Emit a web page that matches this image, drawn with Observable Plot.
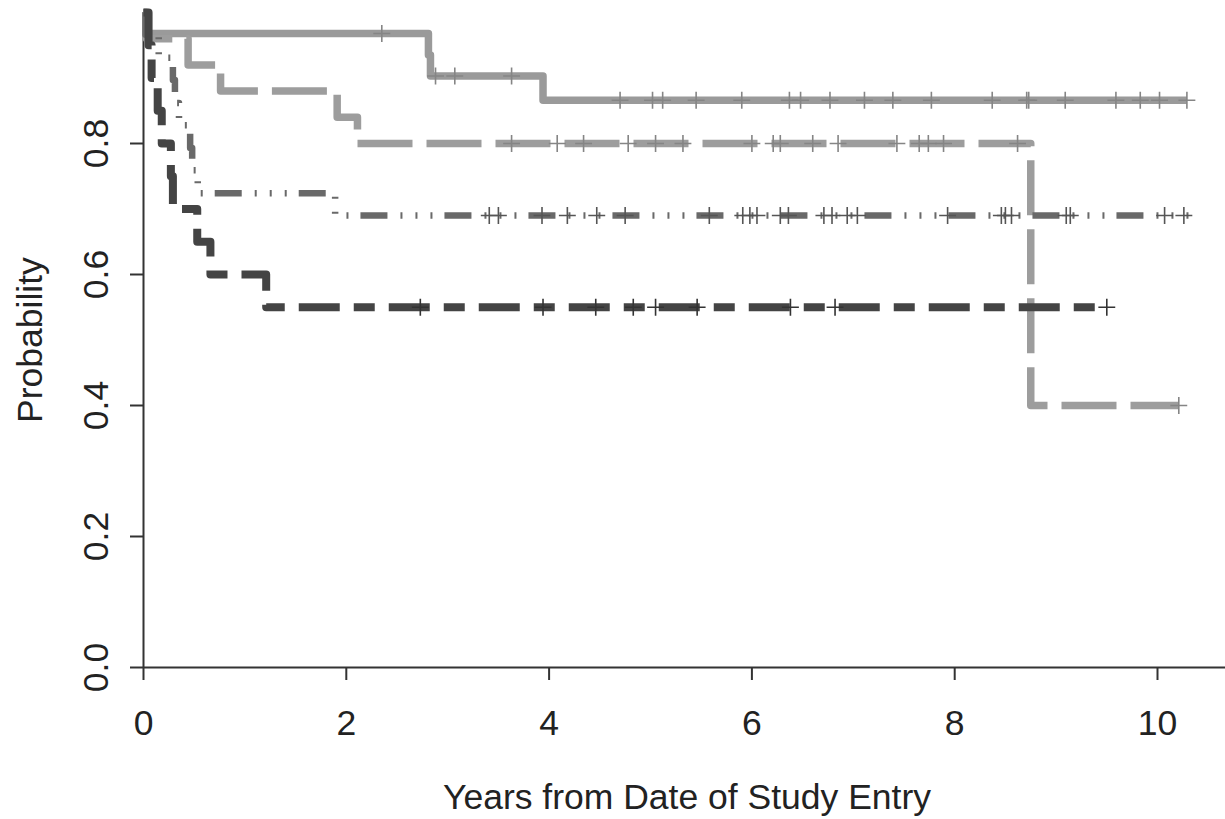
<!DOCTYPE html>
<html>
<head>
<meta charset="utf-8">
<script src="https://cdn.jsdelivr.net/npm/d3@7"></script>
<script src="https://cdn.jsdelivr.net/npm/@observablehq/plot@0.6"></script>
<style>
  html, body { margin: 0; padding: 0; background: #fff; }
</style>
</head>
<body>
<div id="chart"></div>
<script>
// ---- Axis ticks and titles ----
const xTicks = [0, 2, 4, 6, 8, 10];
const yTicks = [0, 0.2, 0.4, 0.6, 0.8];
const xTitle = "Years from Date of Study Entry";
const yTitle = "Probability";

// ---- Series A (solid, light gray) ----
const aTimes = [0, 0.03, 2.81, 2.83, 3.94, 10.29];
const aSurv  = [1, 0.968, 0.935, 0.903, 0.866, 0.866];
const aCensor = [2.35, 2.88, 3.07, 3.63, 4.70, 5.02, 5.12, 5.45, 5.90, 6.37, 6.48, 6.77,
                 7.11, 7.39, 7.77, 8.37, 8.71, 8.73, 9.09, 9.59, 9.83, 10.02, 10.29];

// ---- Series B (long dash, light gray) ----
const bTimes = [0, 0.03, 0.44, 0.76, 1.91, 2.11, 8.75, 10.21];
const bSurv  = [1, 0.96, 0.92, 0.88, 0.84, 0.80, 0.40, 0.40];
const bCensor = [3.63, 4.08, 4.34, 4.78, 5.05, 5.32, 6.00, 6.21, 6.28, 6.60, 6.85,
                 7.43, 7.65, 7.74, 7.89, 8.62, 10.21];

// ---- Series C (dash-dot-dot-dot, medium gray) ----
const cTimes = [0, 0.02, 0.15, 0.29, 0.31, 0.35, 0.46, 0.48, 0.535, 1.89, 10.34];
const cSurv  = [1, 0.966, 0.931, 0.897, 0.862, 0.828, 0.793, 0.759, 0.724, 0.69, 0.69];
const cCensor = [3.41, 3.50, 3.93, 4.18, 4.47, 4.75, 5.58, 5.91, 5.98, 6.05, 6.28, 6.36,
                 6.71, 6.79, 6.94, 7.04, 7.93, 8.46, 8.50, 8.56, 9.10, 9.14, 10.07, 10.26];

// ---- Series D (dashed, dark gray) ----
const dTimes = [0, 0.05, 0.08, 0.14, 0.18, 0.27, 0.29, 0.53, 0.66, 1.21, 9.50];
const dSurv  = [1, 0.95, 0.90, 0.85, 0.80, 0.75, 0.70, 0.65, 0.60, 0.55, 0.55];
const dCensor = [2.73, 3.94, 4.46, 4.83, 5.05, 5.46, 6.38, 6.82, 9.50];

// ---- helpers ----
function stepRows(times, surv) {
  return times.map((t, i) => ({t, s: surv[i]}));
}
function survAt(times, surv, t) {
  let s = surv[0];
  for (let i = 0; i < times.length; i++) if (times[i] <= t) s = surv[i];
  return s;
}
function censorRows(times, surv, cens) {
  return cens.map(t => ({t, s: survAt(times, surv, t)}));
}

const series = [
  {times: aTimes, surv: aSurv, cens: aCensor, color: "#9a9a9a", mark: "#858585", width: 7.5, dash: null},
  {times: bTimes, surv: bSurv, cens: bCensor, color: "#9d9d9d", mark: "#858585", width: 7.5, dash: "55 14"},
  {times: cTimes, surv: cSurv, cens: cCensor, color: "#696969", mark: "#555555", width: 6.5, dash: "27 13 2 13 2 13 2 12"},
  {times: dTimes, surv: dSurv, cens: dCensor, color: "#444444", mark: "#333333", width: 8, dash: "41 14 21 14"}
];

const marks = [];
for (const sr of series) {
  marks.push(Plot.line(stepRows(sr.times, sr.surv), {
    x: "t", y: "s", curve: "step-after",
    stroke: sr.color, strokeWidth: sr.width,
    strokeDasharray: sr.dash, strokeLinejoin: "round", strokeLinecap: "butt"
  }));
}
for (const sr of series) {
  marks.push(Plot.dot(censorRows(sr.times, sr.surv, sr.cens), {
    x: "t", y: "s", symbol: "plus", r: 5.5,
    stroke: sr.mark, strokeWidth: 1.6
  }));
}

const axisColor = "#333";
const fs = 35.5;
const chart = Plot.plot({
  width: 1225,
  height: 819,
  marginTop: 12,
  marginBottom: 152,
  marginLeft: 143,
  marginRight: 68,
  x: {domain: [0, 10], axis: null},
  y: {domain: [0, 1], axis: null},
  style: {fontFamily: "'Liberation Sans', Arial, Helvetica, sans-serif", fontSize: fs + "px", color: "#222", background: "#fff"},
  marks: [
    // axis lines
    Plot.ruleY([0], {x1: 0, x2: 10.8, stroke: axisColor, strokeWidth: 2}),
    Plot.ruleX([0], {y1: 0, y2: 1, stroke: axisColor, strokeWidth: 2}),
    // ticks + labels
    Plot.axisX(xTicks, {anchor: "bottom", tickSize: 13, tickPadding: 29, stroke: axisColor, strokeWidth: 2,
      fontSize: fs, fill: "#222", label: null, tickFormat: d => String(d)}),
    Plot.axisY(yTicks, {anchor: "left", tickSize: 13, tickPadding: 23, tickRotate: -90, stroke: axisColor, strokeWidth: 2,
      fontSize: fs, fill: "#222", label: null, tickFormat: d => d.toFixed(1)}),
    ...marks,
    // axis titles
    Plot.text([xTitle], {x: 5.36, y: 0, dy: 130, text: d => d, fontSize: fs, fill: "#222"}),
    Plot.text([yTitle], {x: 0, y: 0.5, dx: -113, rotate: -90, text: d => d, fontSize: fs, fill: "#222"})
  ]
});
document.getElementById("chart").appendChild(chart);
</script>
</body>
</html>
